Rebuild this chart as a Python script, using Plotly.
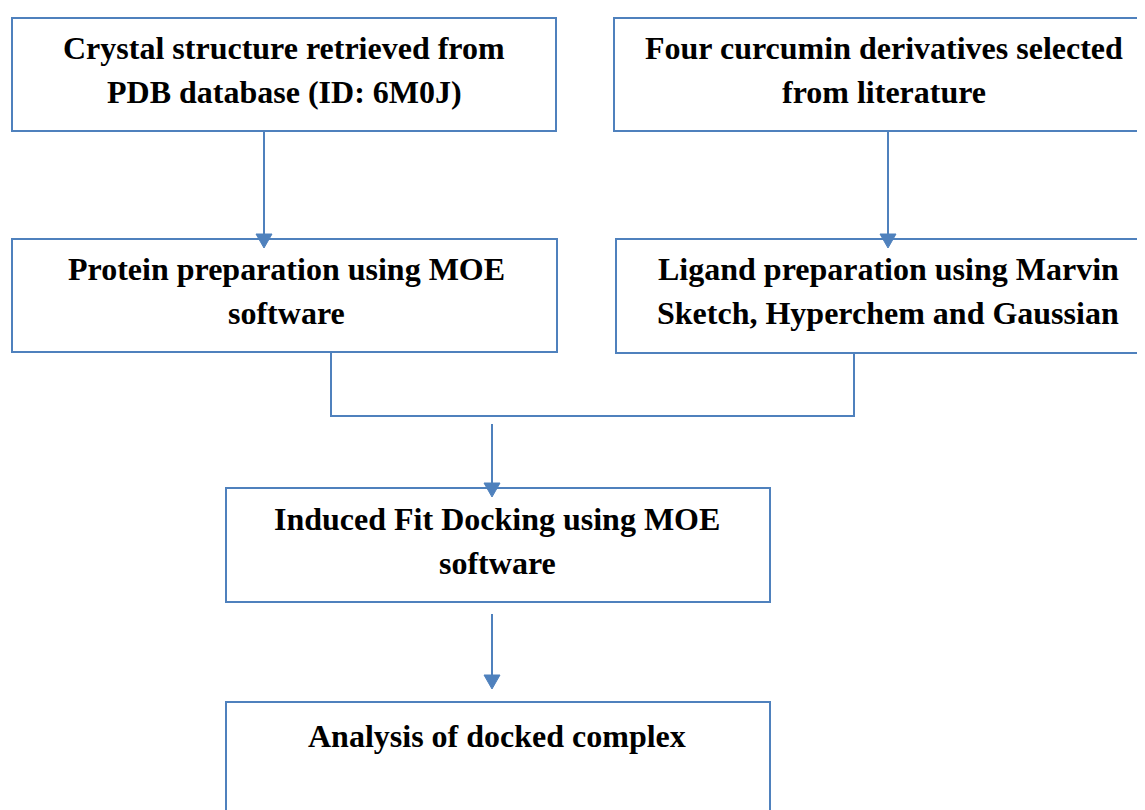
import plotly.graph_objects as go

# Flowchart content
step_lines = [
    ["Crystal structure retrieved from", "PDB database (ID: 6M0J)"],
    ["Four curcumin derivatives selected", "from literature"],
    ["Protein preparation using MOE", "software"],
    ["Ligand preparation using Marvin", "Sketch, Hyperchem and Gaussian"],
    ["Induced Fit Docking using MOE", "software"],
    ["Analysis of docked complex"],
]

# Geometry (pixels): x0, x1, y0 (top), y1 (bottom)
box_x0 = [12, 614, 12, 616, 226, 226]
box_x1 = [556, 1160, 557, 1162, 770, 770]
box_y0 = [18, 18, 239, 239, 488, 702]
box_y1 = [131, 131, 352, 353, 602, 830]
text_cx = [284, 884, 286, 888, 497, 497]
text_y0 = [48, 48, 269, 269, 519, 736]
LINE_GAP = 44

COLOR = "#4F81BD"
OFF = 8  # browser body margin
W, H = 1145 - OFF, 810 - OFF
FONT = "Times New Roman, Liberation Serif, Tinos, DejaVu Serif, serif"

fig = go.Figure()
shapes = []
annotations = []

for i, lines in enumerate(step_lines):
    shapes.append(dict(type="rect", xref="x", yref="y",
                       x0=box_x0[i], x1=box_x1[i], y0=box_y0[i], y1=box_y1[i],
                       line=dict(color=COLOR, width=2), fillcolor="rgba(0,0,0,0)"))
    for k, ln in enumerate(lines):
        annotations.append(dict(x=text_cx[i], y=text_y0[i] + k * LINE_GAP, xref="x", yref="y",
                                text="<b>" + ln + "</b>", showarrow=False,
                                xanchor="center", yanchor="middle",
                                font=dict(family=FONT, size=32, color="black")))

def seg(x0, y0, x1, y1):
    shapes.append(dict(type="line", xref="x", yref="y", x0=x0, y0=y0, x1=x1, y1=y1,
                       line=dict(color=COLOR, width=2)))

# Merge connector
seg(331, 352, 331, 416)
seg(854, 353, 854, 416)
seg(330, 416, 855, 416)

# Arrows
arrows = [(264, 132, 248), (888, 132, 248), (492, 424, 497), (492, 614, 689)]
for ax, ya, yb in arrows:
    seg(ax, ya, ax, yb - 12)
    shapes.append(dict(type="path", xref="x", yref="y",
                       path=f"M {ax-8},{yb-14} L {ax+8},{yb-14} L {ax},{yb} Z",
                       fillcolor=COLOR, line=dict(color=COLOR, width=1)))

fig.update_layout(
    width=W, height=H,
    margin=dict(l=0, r=0, t=0, b=0),
    font=dict(family=FONT),
    paper_bgcolor="white", plot_bgcolor="white",
    xaxis=dict(range=[OFF, 1145], visible=False, fixedrange=True),
    yaxis=dict(range=[810, OFF], visible=False, fixedrange=True),
    shapes=shapes, annotations=annotations,
    showlegend=False,
)

fig.write_html("out.html")
